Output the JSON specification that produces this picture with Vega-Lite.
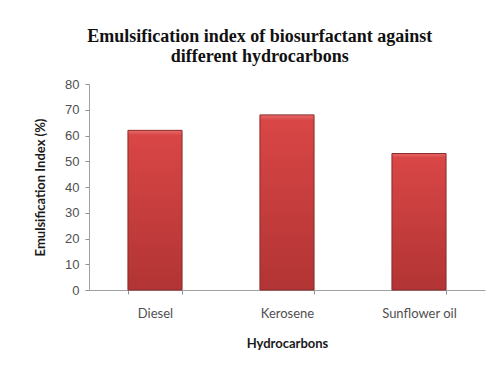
{
  "$schema": "https://vega.github.io/schema/vega-lite/v6.json",
  "width": 396,
  "height": 206,
  "autosize": "none",
  "padding": {"left": 89, "top": 84, "right": 5, "bottom": 76},
  "background": "white",
  "title": {
    "text": ["Emulsification index of biosurfactant against", "different hydrocarbons"],
    "font": "Liberation Serif",
    "fontSize": 18,
    "fontWeight": "bold",
    "lineHeight": 20,
    "color": "#111111",
    "anchor": "middle",
    "frame": "bounds",
    "offset": 12
  },
  "data": {
    "values": [
      {"hydrocarbon": "Diesel", "index": 62},
      {"hydrocarbon": "Kerosene", "index": 68},
      {"hydrocarbon": "Sunflower oil", "index": 53}
    ]
  },
  "mark": {
    "type": "bar",
    "stroke": "#8a2a2a",
    "strokeWidth": 1,
    "fill": {
      "gradient": "linear",
      "x1": 0, "y1": 0, "x2": 0, "y2": 1,
      "stops": [
        {"offset": 0, "color": "#e86a6a"},
        {"offset": 0.03, "color": "#d94646"},
        {"offset": 1, "color": "#b23434"}
      ]
    }
  },
  "encoding": {
    "x": {
      "field": "hydrocarbon",
      "type": "nominal",
      "sort": null,
      "scale": {"paddingInner": 0.59, "paddingOuter": 0.295},
      "axis": {
        "title": "Hydrocarbons",
        "titleFont": "Lato",
        "titleFontSize": 13,
        "titleFontWeight": "bold",
        "titleColor": "#1a1a1a",
        "titlePadding": 17,
        "labelFont": "Lato",
        "labelFontSize": 13,
        "labelColor": "#505050",
        "labelAngle": 0,
        "labelPadding": 13,
        "tickBand": "extent",
        "tickSize": 4,
        "tickColor": "#909090",
        "domainColor": "#a0a0a0"
      }
    },
    "y": {
      "field": "index",
      "type": "quantitative",
      "scale": {"domain": [0, 80]},
      "axis": {
        "title": "Emulsification Index (%)",
        "titleFont": "Lato",
        "titleFontSize": 13,
        "titleFontWeight": "bold",
        "titleColor": "#1a1a1a",
        "titlePadding": 17,
        "values": [0, 10, 20, 30, 40, 50, 60, 70, 80],
        "labelFont": "Liberation Sans",
        "labelFontSize": 13,
        "labelColor": "#505050",
        "labelPadding": 6,
        "tickSize": 4,
        "tickColor": "#909090",
        "domainColor": "#a0a0a0",
        "grid": false
      }
    }
  },
  "config": {
    "view": {"stroke": null}
  }
}
